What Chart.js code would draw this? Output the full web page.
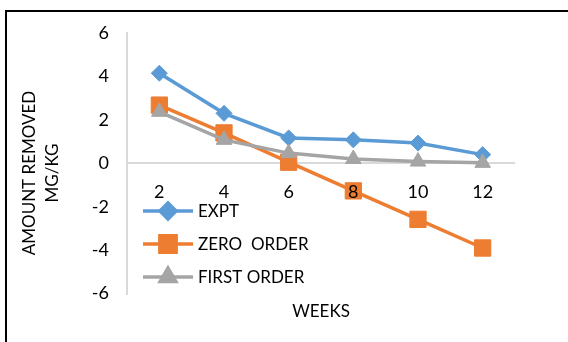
<!DOCTYPE html>
<html>
<head>
<meta charset="utf-8">
<script src="https://cdn.jsdelivr.net/npm/chart.js@4.4.0/dist/chart.umd.min.js"></script>
<style>
  body { margin: 0; background: #fff; }
  #wrap { position: relative; width: 568px; height: 342px; overflow: hidden; }
  #frame { position: absolute; left: 5px; top: 10px; width: 620px; height: 400px; border: 2px solid #000; }
  #chart { position: absolute; left: 0; top: 0; }
</style>
</head>
<body>
<div id="wrap">
  <div id="frame"></div>
  <canvas id="chart" width="568" height="342"></canvas>
</div>
<script>
// weeks and the three removal curves (mg/kg)
var weeks = ['2', '4', '6', '8', '10', '12'];
var expt = [4.15, 2.3, 1.17, 1.08, 0.93, 0.4];
var zeroOrder = [2.68, 1.4, 0.05, -1.27, -2.58, -3.9];
var firstOrder = [2.37, 1.08, 0.47, 0.2, 0.08, 0.02];
var seriesNames = ['EXPT', 'ZERO  ORDER', 'FIRST ORDER'];
var yTitle = ['AMOUNT REMOVED', 'MG/KG'];
var xTitle = 'WEEKS';

var FONT = 'Lato, "Open Sans", sans-serif';

function series(label, values, color, style, radius, order) {
  return {
    label: label,
    data: values,
    borderColor: color,
    backgroundColor: color,
    borderWidth: 3.5,
    pointStyle: style,
    pointRadius: radius,
    pointHoverRadius: radius,
    pointBorderWidth: 1,
    tension: 0,
    order: order
  };
}

// legend with line + marker sample, and the two-line y title
var extras = {
  id: 'extras',
  afterDraw: function (chart) {
    var ctx = chart.ctx;
    ctx.save();
    ctx.font = '17px ' + FONT;
    ctx.fillStyle = '#000';
    ctx.textBaseline = 'middle';
    var rows = [211, 244, 277];
    chart.data.datasets.forEach(function (ds, i) {
      var y = rows[i];
      ctx.strokeStyle = ds.borderColor;
      ctx.lineWidth = ds.borderWidth;
      ctx.beginPath();
      ctx.moveTo(143, y);
      ctx.lineTo(193, y);
      ctx.stroke();
      ctx.fillStyle = ds.backgroundColor;
      Chart.helpers.drawPoint(ctx, {
        pointStyle: ds.pointStyle, radius: ds.pointRadius, borderWidth: 1, rotation: 0
      }, 168, y);
      ctx.fillStyle = '#000';
      ctx.textAlign = 'left';
      ctx.fillText(ds.label, 198, y + 1);
    });

    ctx.translate(0, 173);
    ctx.rotate(-Math.PI / 2);
    ctx.textAlign = 'center';
    ctx.fillText(yTitle[0], 0, 30);
    ctx.fillText(yTitle[1], 0, 53);
    ctx.restore();
  }
};

new Chart(document.getElementById('chart'), {
  type: 'line',
  data: {
    labels: weeks,
    datasets: [
      series(seriesNames[0], expt, '#5B9BD5', 'rectRot', 8, 2),
      series(seriesNames[1], zeroOrder, '#ED7D31', 'rect', 11.5, 1),
      series(seriesNames[2], firstOrder, '#A5A5A5', 'triangle', 9, 0)
    ]
  },
  options: {
    responsive: false,
    animation: false,
    layout: { padding: { left: 0, right: 53, top: 33, bottom: 8 } },
    plugins: {
      legend: { display: false },
      tooltip: { enabled: false },
      title: {
        display: true,
        text: xTitle,
        position: 'bottom',
        fullSize: false,
        color: '#000',
        font: { family: FONT, size: 17, weight: 'normal' },
        padding: { top: 8, bottom: 12 }
      }
    },
    scales: {
      x: {
        position: { y: 0 },
        offset: true,
        grid: { display: false, drawTicks: false },
        border: { display: false },
        // labels sit on top of the markers
        ticks: { z: 1, color: '#000', padding: 18, font: { family: FONT, size: 18 } }
      },
      y: {
        min: -6,
        max: 6,
        afterFit: function (scale) { scale.width = 127; },
        grid: {
          drawTicks: false,
          lineWidth: 2,
          color: function (c) { return c.tick && c.tick.value === 0 ? '#D9D9D9' : 'rgba(0,0,0,0)'; }
        },
        border: { display: true, color: '#D9D9D9', width: 2 },
        ticks: { stepSize: 2, color: '#000', padding: 18, font: { family: FONT, size: 18 } }
      }
    }
  },
  plugins: [extras]
});
</script>
</body>
</html>
